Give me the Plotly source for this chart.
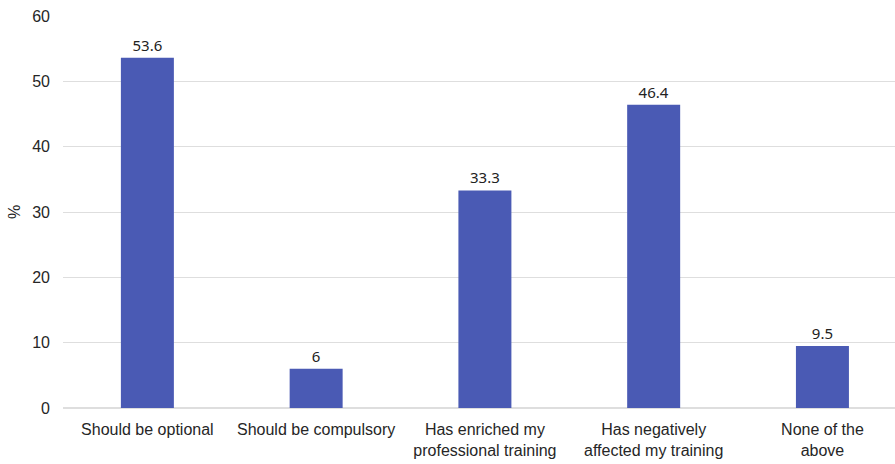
import plotly.graph_objects as go

categories = ["Should be optional", "Should be compulsory", "Has enriched my<br>professional training",
              "Has negatively<br>affected my training", "None of the<br>above"]
values = [53.6, 6, 33.3, 46.4, 9.5]
labels = ["53.6", "6", "33.3", "46.4", "9.5"]

fig = go.Figure(go.Bar(
    x=list(range(len(categories))), y=values, text=labels, textposition="outside",
    marker=dict(color="#4a5ab4", line=dict(width=0)),
    textfont=dict(family="Noto Sans", size=15, color="#222222"),
    cliponaxis=False, width=0.314,
))
fig.update_layout(
    width=895, height=464, margin=dict(l=63, r=0, t=16, b=56),
    plot_bgcolor="white", paper_bgcolor="white", showlegend=False,
    font=dict(family="Liberation Sans", size=16, color="#262626"),
)
fig.update_xaxes(tickmode="array", tickvals=list(range(len(categories))), ticktext=categories,
                 range=[-0.5, 4.43], showgrid=False, showline=False, ticks="", ticklen=0,
                 ticklabelstandoff=10)
fig.update_yaxes(range=[0, 60], dtick=10, gridcolor="#dedede", gridwidth=1, zeroline=True,
                 zerolinecolor="#dedede", showline=False, ticks="", ticklabelstandoff=12,
                 title=dict(text="%", standoff=7, font=dict(size=16)))
fig.write_html("out.html")
